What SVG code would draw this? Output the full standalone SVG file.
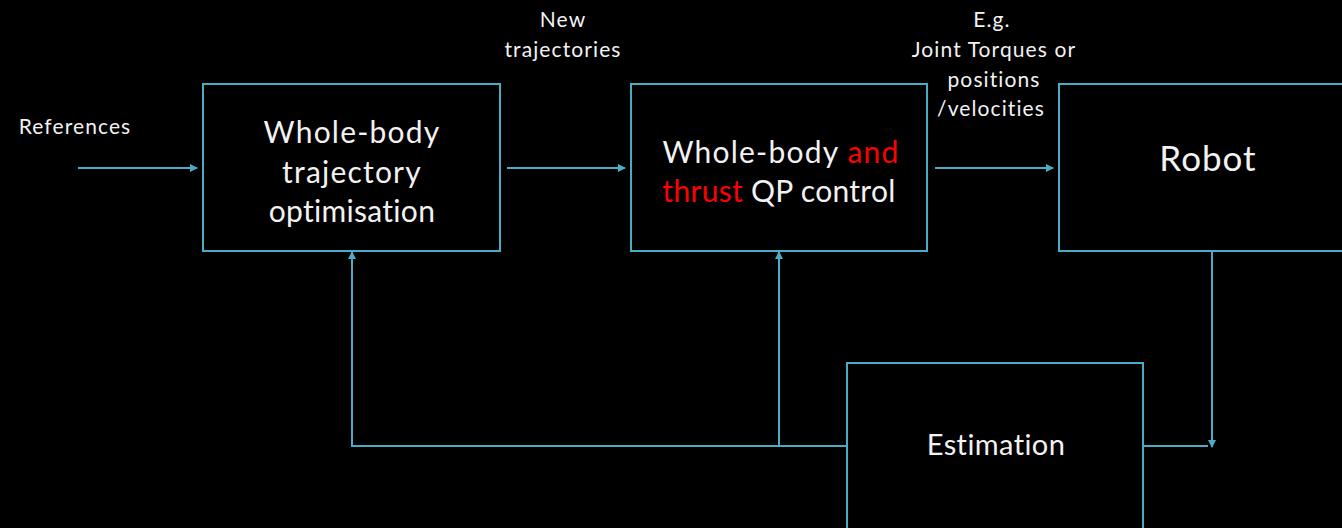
<svg xmlns="http://www.w3.org/2000/svg" width="1342" height="528" viewBox="0 0 1342 528">
  <defs>
    <marker id="arrow" viewBox="0 0 8 8" refX="7" refY="4" markerWidth="4" markerHeight="4" orient="auto" markerUnits="strokeWidth">
      <path d="M0,0 L8,4 L0,8 z" fill="#4BACC6"/>
    </marker>
    <style>
      .box { fill: #000; stroke: #4BACC6; stroke-width: 2; }
      .wire { fill: none; stroke: #4BACC6; stroke-width: 2; }
      .lbl { font-family: "Lato", "Liberation Sans", sans-serif; fill: #F2F2F2; text-anchor: middle; }
      .small { font-size: 21px; letter-spacing: 1.1px; }
      .big { font-size: 30px; letter-spacing: 1.2px; }
      .tight { letter-spacing: 0.3px; }
      .red { fill: #FF0000; }
    </style>
  </defs>
  <rect width="1342" height="528" fill="#000"/>

  <!-- connectors -->
  <g id="connectors">
    <line class="wire" x1="78" y1="168" x2="197" y2="168" marker-end="url(#arrow)"/>
    <line class="wire" x1="507" y1="168" x2="625" y2="168" marker-end="url(#arrow)"/>
    <line class="wire" x1="935" y1="168" x2="1053" y2="168" marker-end="url(#arrow)"/>
    <line class="wire" x1="1212" y1="251" x2="1212" y2="447" marker-end="url(#arrow)"/>
    <line class="wire" x1="1143" y1="446" x2="1208" y2="446"/>
    <polyline class="wire" points="847,446 352,446 352,252" marker-end="url(#arrow)"/>
    <line class="wire" x1="779" y1="446" x2="779" y2="252" marker-end="url(#arrow)"/>
  </g>

  <!-- trajectory optimiser -->
  <g id="node-optimisation">
    <rect class="box" x="203" y="84" width="297" height="167"/>
    <text class="lbl big" x="352" y="143">Whole-body</text>
    <text class="lbl big" x="352" y="183">trajectory</text>
    <text class="lbl big tight" x="352" y="222">optimisation</text>
  </g>

  <!-- QP controller -->
  <g id="node-qp">
    <rect class="box" x="631" y="84" width="296" height="167"/>
    <text class="lbl big" x="781" y="163">Whole-body <tspan class="red">and</tspan></text>
    <text class="lbl big tight" x="779" y="202"><tspan class="red">thrust</tspan> QP control</text>
  </g>

  <!-- robot -->
  <g id="node-robot">
    <rect class="box" x="1059" y="84" width="300" height="167"/>
    <text class="lbl" x="1208" y="171" font-size="35" letter-spacing="1">Robot</text>
  </g>

  <!-- estimator -->
  <g id="node-estimation">
    <rect class="box" x="847" y="363" width="296" height="180"/>
    <text class="lbl" x="996" y="455" font-size="29" letter-spacing="0.4">Estimation</text>
  </g>

  <!-- signal labels -->
  <g id="labels">
    <text class="lbl small" x="75" y="134">References</text>
    <text class="lbl small" x="563" y="27">New</text>
    <text class="lbl small" x="563" y="57">trajectories</text>
    <text class="lbl small" x="992" y="27">E.g.</text>
    <text class="lbl small" x="994" y="57">Joint Torques or</text>
    <text class="lbl small" x="994" y="87">positions</text>
    <text class="lbl small" x="991" y="116">/velocities</text>
  </g>
</svg>
